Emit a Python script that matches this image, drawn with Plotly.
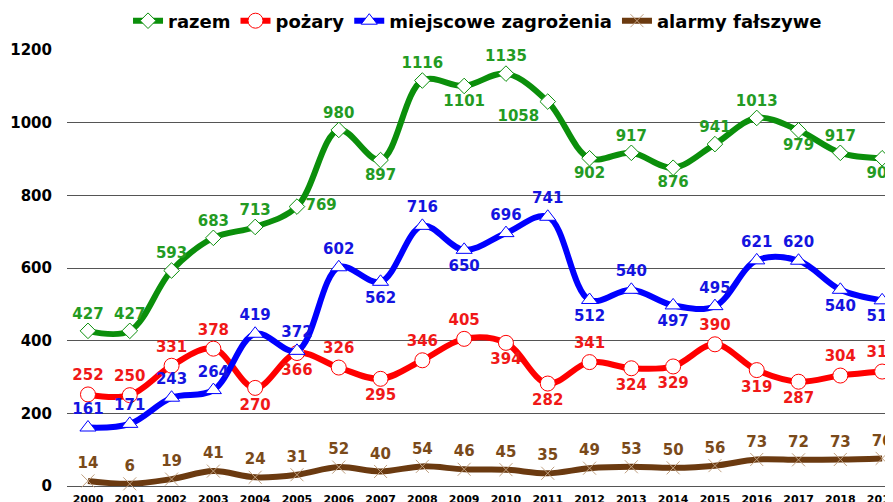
import plotly.graph_objects as go

years = list(range(2000, 2020))
razem = [427, 427, 593, 683, 713, 769, 980, 897, 1116, 1101, 1135, 1058, 902, 917, 876, 941, 1013, 979, 917, 902]
pozary = [252, 250, 331, 378, 270, 366, 326, 295, 346, 405, 394, 282, 341, 324, 329, 390, 319, 287, 304, 315]
miejscowe = [161, 171, 243, 264, 419, 372, 602, 562, 716, 650, 696, 741, 512, 540, 497, 495, 621, 620, 540, 511]
alarmy = [14, 6, 19, 41, 24, 31, 52, 40, 54, 46, 45, 35, 49, 53, 50, 56, 73, 72, 73, 76]

T, B = "top center", "bottom center"
pos_razem = [T, T, T, T, T, "middle right", T, B, T, B, T, "bottom left", B, T, B, T, T, B, T, B]
pos_pozary = [T, T, T, T, B, B, T, B, T, T, B, B, T, B, B, T, B, B, T, T]
pos_miejsc = [T, T, T, T, T, T, T, B, T, B, T, T, B, T, B, T, T, T, B, B]
pos_alarmy = [T] * 20

FONT = "DejaVu Sans"

series = [
    ("razem", razem, "#0b8f0b", "#239b23", "diamond", 12, pos_razem),
    ("pożary", pozary, "#ff0000", "#f01818", "circle", 15, pos_pozary),
    ("miejscowe zagrożenia", miejscowe, "#0000ff", "#1414e0", "triangle-up", 14, pos_miejsc),
    ("alarmy fałszywe", alarmy, "#6b3a10", "#7a4a1a", "x-thin", 13, pos_alarmy),
]

fig = go.Figure()
for name, vals, col, tcol, sym, msize, pos in series:
    is_x = sym == "x-thin"
    fig.add_trace(go.Scatter(
        x=years, y=vals, name=name, mode="lines+markers+text",
        line=dict(color=col, width=6, shape="spline", smoothing=1.0),
        marker=dict(symbol=sym, size=msize, color=col if is_x else "white",
                    line=dict(color="#c0a080" if is_x else col, width=1)),
        text=[str(v) for v in vals], textposition=pos,
        textfont=dict(family=FONT, size=15, color=tcol, weight="bold"),
        cliponaxis=False,
    ))

fig.update_layout(
    width=893, height=502,
    margin=dict(l=59, r=8, t=42, b=24, autoexpand=False),
    plot_bgcolor="white", paper_bgcolor="white",
    font=dict(family=FONT, color="black"),
    showlegend=True,
    legend=dict(orientation="h", x=0.497, xanchor="center", xref="paper",
                y=1 - 13 / 502, yanchor="middle", yref="container",
                font=dict(family=FONT, size=18, weight="bold"), tracegroupgap=0),
    xaxis=dict(range=[1999.498, 2019.26], tickmode="array", tickvals=years,
               ticktext=[str(y) for y in years], showgrid=False, zeroline=False,
               tickfont=dict(family=FONT, size=11, weight="bold"), ticks="", showline=False,
               ticklabelstandoff=5),
    yaxis=dict(range=[0, 1200], tickvals=[0, 200, 400, 600, 800, 1000, 1200],
               showgrid=True, gridcolor="#555555", gridwidth=1, zeroline=True,
               zerolinecolor="#555555", zerolinewidth=1,
               tickfont=dict(family=FONT, size=15, weight="bold"), ticks="", ticklabelstandoff=14),
)

fig.write_html("out.html")
